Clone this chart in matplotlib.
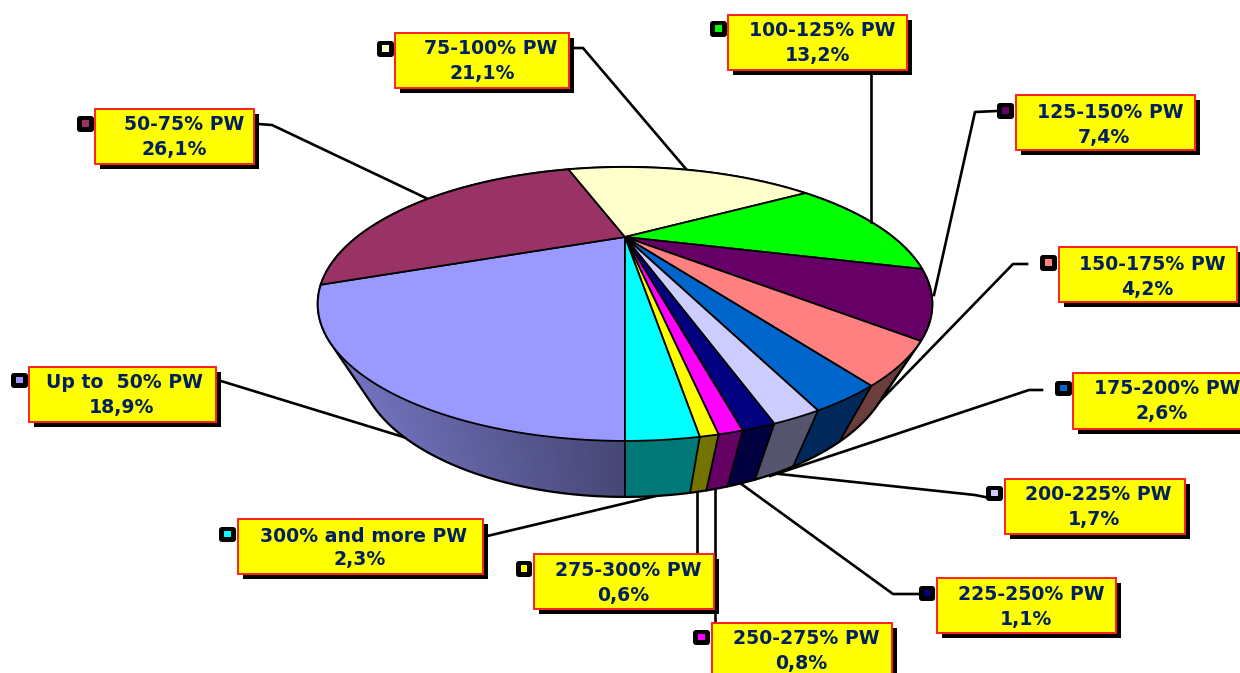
import numpy as np
import matplotlib
matplotlib.use("Agg")
import matplotlib.pyplot as plt
from matplotlib.patches import Polygon, Rectangle, FancyBboxPatch
from matplotlib.colors import to_rgb

# ---- data ----
categories = ["Up to  50% PW", "50-75% PW", "75-100% PW", "100-125% PW", "125-150% PW",
              "150-175% PW", "175-200% PW", "200-225% PW", "225-250% PW", "250-275% PW",
              "275-300% PW", "300% and more PW"]
values = [18.9, 26.1, 21.1, 13.2, 7.4, 4.2, 2.6, 1.7, 1.1, 0.8, 0.6, 2.3]
value_labels = ["18,9%", "26,1%", "21,1%", "13,2%", "7,4%", "4,2%", "2,6%", "1,7%", "1,1%", "0,8%", "0,6%", "2,3%"]

# ---- styles ----
top_colors = ["#9999FF", "#993366", "#FFFFCC", "#00FF00", "#660066", "#FF8080",
              "#0066CC", "#CCCCFF", "#000080", "#FF00FF", "#FFFF00", "#00FFFF"]
wall_colors = ["#4F4F80", "#4C1933", "#80806A", "#008000", "#330033", "#6B3C3C",
               "#00285A", "#54546E", "#000040", "#640064", "#737300", "#007878"]

# ---- layout (image pixels) ----
W, H = 1240, 673
CX, CY = 625.0, 237.0
PERSP, RY, RX = 0.489, 104.2, 268.0
WALL_DY, WALL_SX = 56.0, 0.87

# box (l, t, r, b), line-1 centre, line-2 centre, key (l, t, r, b)
boxes = [
    ((29, 367, 216, 422), (124, 383), (122, 407), (11, 373, 28, 388)),
    ((95, 109, 254, 164), (184, 124), (174, 149), (77, 116, 94, 132)),
    ((395, 33, 569, 88), (491, 49), (482, 74), (377, 41, 394, 57)),
    ((728, 15, 907, 70), (822, 31), (818, 55), (710, 21, 727, 37)),
    ((1016, 95, 1195, 150), (1110, 112), (1104, 137), (997, 103, 1014, 119)),
    ((1059, 247, 1237, 302), (1152, 265), (1147, 290), (1040, 255, 1057, 271)),
    ((1073, 373, 1260, 429), (1167, 389), (1162, 414), (1055, 381, 1072, 396)),
    ((1005, 479, 1185, 534), (1098, 495), (1094, 520), (986, 486, 1003, 501)),
    ((937, 578, 1116, 633), (1031, 595), (1026, 619), (919, 586, 935, 601)),
    ((712, 623, 892, 678), (806, 638), (801, 663), (693, 630, 710, 645)),
    ((534, 554, 714, 609), (628, 570), (623, 595), (516, 561, 532, 577)),
    ((238, 519, 483, 574), (364, 536), (360, 560), (219, 527, 236, 542)),
]
leaders_back = [
    [(221, 381), (410, 439)],
    [(1027, 264), (1013, 264), (850, 432)],
    [(1042, 390), (1029, 390), (770, 476)],
    [(985, 497), (975, 495), (770, 473)],
    [(919, 594), (893, 594), (740, 483)],
    [(715, 623), (715, 488)],
    [(697, 554), (697, 490)],
    [(483, 537), (660, 495)],
    [(258, 124), (272, 125), (428, 199)],
    [(574, 48), (583, 48), (686, 169)],
]
leaders_front = [
    [(871, 70), (871, 222)],
    [(997, 111), (975, 112), (934, 295)],
]

def project(phi):
    s, c = np.sin(phi), np.cos(phi)
    d = 1 - PERSP * c
    return CX + RX * s / d, CY + RY * c / d

def project_low(phi):
    x, y = project(phi)
    return CX + WALL_SX * (x - CX), y + WALL_DY

def hull(points):
    pts = sorted(set(points))
    def half(seq):
        out = []
        for p in seq:
            while len(out) >= 2 and ((out[-1][0] - out[-2][0]) * (p[1] - out[-2][1])
                                     - (out[-1][1] - out[-2][1]) * (p[0] - out[-2][0])) <= 0:
                out.pop()
            out.append(p)
        return out[:-1]
    return half(pts) + half(pts[::-1])

plt.rcParams["font.family"] = ["DejaVu Sans"]
fig = plt.figure(figsize=(W / 100, H / 100), dpi=100)
ax = fig.add_axes([0, 0, 1, 1])
ax.set_xlim(0, W)
ax.set_ylim(H, 0)
ax.axis("off")

for pts in leaders_back:
    xs, ys = zip(*pts)
    ax.plot(xs, ys, color="black", lw=1.9, zorder=1, solid_joinstyle="round")

# slice angles: running clockwise (on screen) from the bottom of the pie
edges = -np.radians(np.concatenate([[0], np.cumsum(values)]) * 3.6)

# walls
quads = []
for i in range(len(values)):
    n = max(3, int(abs(edges[i + 1] - edges[i]) / np.radians(1.0)))
    ph = np.linspace(edges[i], edges[i + 1], n)
    xt, yt = project(ph)
    xb, yb = project_low(ph)
    for j in range(n - 1):
        q = [(xt[j], yt[j]), (xt[j + 1], yt[j + 1]), (xb[j + 1], yb[j + 1]), (xb[j], yb[j])]
        xm = (xt[j] + xt[j + 1]) / 2
        if i == 0:
            shade = 0.46 + 0.29 * np.clip((CX - xm) / 285.0, 0, 1)
            col = tuple(v * shade for v in to_rgb(top_colors[0]))
        else:
            col = wall_colors[i]
        quads.append(((yb[j] + yb[j + 1]) / 2, q, col))
quads.sort(key=lambda t: t[0])
for _, q, col in quads:
    ax.add_patch(Polygon(q, closed=True, facecolor=col, edgecolor=col, lw=0.6, zorder=2))

# wall outlines: the silhouette of the whole solid, then the slice divisions
phi_all = np.linspace(0, -2 * np.pi, 721)
xt_all, yt_all = project(phi_all)
xb_all, yb_all = project_low(phi_all)
outline = hull([(float(a), float(b)) for a, b in zip(xt_all, yt_all)]
               + [(float(a), float(b)) for a, b in zip(xb_all, yb_all)])
ax.add_patch(Polygon(outline, closed=True, facecolor="none", edgecolor="black", lw=1.6, zorder=3))
for e in edges[:-1]:
    xa, ya = project(e)
    xc, yc = project_low(e)
    ax.plot([xa, xc], [ya, yc], color="black", lw=1.3, zorder=3)

# top face
for i in range(len(values)):
    n = max(3, int(abs(edges[i + 1] - edges[i]) / np.radians(0.5)))
    ph = np.linspace(edges[i], edges[i + 1], n)
    xt, yt = project(ph)
    verts = [(CX, CY)] + list(zip(xt, yt))
    ax.add_patch(Polygon(verts, closed=True, facecolor=top_colors[i], edgecolor="black",
                         lw=1.3, zorder=4, joinstyle="round"))

for pts in leaders_front:
    xs, ys = zip(*pts)
    ax.plot(xs, ys, color="black", lw=1.9, zorder=5, solid_joinstyle="round")

# labels
navy = "#002060"
for i, ((l, t, r, b), p1, p2, k) in enumerate(boxes):
    ax.add_patch(Rectangle((l + 5, t + 5), r - l, b - t, facecolor="black", edgecolor="none", zorder=6))
    ax.add_patch(Rectangle((l, t), r - l, b - t, facecolor="#FFFF00", edgecolor="#FF2020", lw=1.4, zorder=7))
    ax.text(p1[0], p1[1], categories[i], color=navy, fontsize=13.6, fontweight="bold",
            ha="center", va="center", zorder=8)
    ax.text(p2[0], p2[1], value_labels[i], color=navy, fontsize=13.6, fontweight="bold",
            ha="center", va="center", zorder=8)
    kl, kt, kr, kb = k
    ax.add_patch(FancyBboxPatch((kl + 3, kt + 3), kr - kl - 6, kb - kt - 6,
                                boxstyle="round,pad=3,rounding_size=3",
                                facecolor="black", edgecolor="none", zorder=6))
    ax.add_patch(Rectangle((kl + 5, kt + 4), kr - kl - 10, kb - kt - 9,
                           facecolor=top_colors[i], edgecolor="none", zorder=7))

fig.savefig("out.png", dpi=100, facecolor="white")
